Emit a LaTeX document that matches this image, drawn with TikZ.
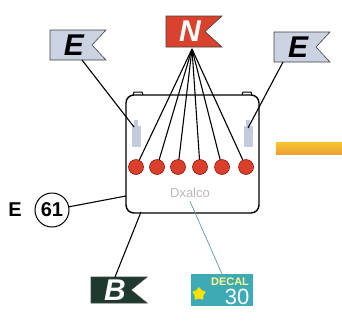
\documentclass[tikz,border=0pt]{standalone}
\usepackage{fontspec}
\setsansfont{Liberation Sans}
\usetikzlibrary{shapes.geometric}
\definecolor{flagred}{HTML}{D9432D}
\definecolor{flagblue}{HTML}{CBD2E2}
\definecolor{flaggreen}{HTML}{1E3A2F}
\definecolor{dotred}{HTML}{DA3F2B}
\definecolor{postgrey}{HTML}{C4CAE0}
\definecolor{decalteal}{HTML}{3DAAB6}
\definecolor{barorange}{HTML}{EDA035}
\definecolor{baryellow}{HTML}{F6C62E}
\definecolor{leadteal}{HTML}{5C9C9E}

\tikzset{
  flagletter/.style={font=\sffamily\bfseries\itshape\fontsize{30}{30}\selectfont,inner sep=0pt},
  lead/.style={line width=1.1pt,black},
  dot/.style={circle,fill=dotred,draw=red!55!black,line width=0.5pt,minimum size=15pt,inner sep=0pt},
  post/.style={fill=postgrey,draw=none},
  tagfont/.style={font=\sffamily\bfseries\fontsize{20}{20}\selectfont}
}

% pennant: name, left x, top y, height, fill, letter colour, letter, notch
\newcommand{\pennant}[8]{%
  \filldraw[fill=#5,draw=black!75,line width=0.6pt] (#2,#3) -- ++(56,0) -- ++(-#8,#4/2)
    -- ++(#8,#4/2) -- ++(-56,0) -- cycle;
  \node[flagletter,text=#6] (#1) at (#2+24,#3+#4/2) {#7};}

\begin{document}
\begin{tikzpicture}[x=1pt,y=-1pt]
\useasboundingbox (0,0) rectangle (342,327);

% orange strip on the right
\shade[top color=baryellow,bottom color=barorange] (276,142) rectangle (342,154);

% flags
\pennant{nflag}{166}{16}{31}{flagred}{white}{N}{17}
\pennant{eleft}{50}{30}{30}{flagblue}{black}{E}{14}
\pennant{eright}{274}{32}{30}{flagblue}{black}{E}{14}
\pennant{bflag}{91}{277}{26}{flaggreen}{white}{B}{16}

% battery case
\node[draw,line width=1.4pt,rounded corners=8pt,minimum width=133pt,minimum height=118pt]
  (batt) at (192.5,154) {};
\draw[line width=1pt] (133,95) -- (134,92) -- (142,92) -- (143,95);
\draw[line width=1pt] (242,95) -- (243,92) -- (251,92) -- (252,95);
\node[text=gray!55,font=\sffamily\fontsize{13}{13}\selectfont] (brand) at (190,193) {Dxalco};

% terminal posts
\fill[post] (134,120) rectangle (138,127);
\fill[post] (132,126) rectangle (141,147);
\fill[post] (246,120) rectangle (250,127);
\fill[post] (244,126) rectangle (253,147);

% cell caps
\coordinate (nfoot) at (192,49);
\foreach \i/\x in {1/136,2/157,3/178,4/200,5/222,6/246}{
  \draw[lead] (nfoot) -- (\x,167);
  \node[dot] (d\i) at (\x,167) {};
}

% earth leads
\coordinate (elfoot) at (82,60);
\coordinate (erfoot) at (283,62);
\coordinate (lpost) at (134,127);
\coordinate (rpost) at (248,128);
\draw[lead] (elfoot) -- (lpost);
\draw[lead] (erfoot) -- (rpost);

% E 61 tag
\node[tagfont] (eletter) at (15,210) {E};
\node[draw,circle,line width=1pt,minimum size=34pt,inner sep=0pt,tagfont] (e61) at (52,210) {61};
\coordinate (boxleft) at (126,196);
\draw[lead] (e61) -- (boxleft);

% B lead
\coordinate (bfoot) at (115,277);
\coordinate (boxfoot) at (141,212);
\draw[lead] (bfoot) -- (boxfoot);

% decal badge
\fill[decalteal] (191,274) rectangle (253,306);
\node[star,star points=5,fill=yellow!85!orange,minimum size=14pt,inner sep=0pt] (decalstar) at (199,294) {};
\node[text=yellow!45!white,font=\sffamily\bfseries\fontsize{11}{11}\selectfont] (decaltext) at (230,282) {DECAL};
\node[text=white,font=\sffamily\fontsize{22}{22}\selectfont] (decalnum) at (237,297) {30};
\coordinate (decaltop) at (222,274);
\draw[leadteal,line width=0.7pt] (decaltop) -- (brand.south);
\end{tikzpicture}
\end{document}
